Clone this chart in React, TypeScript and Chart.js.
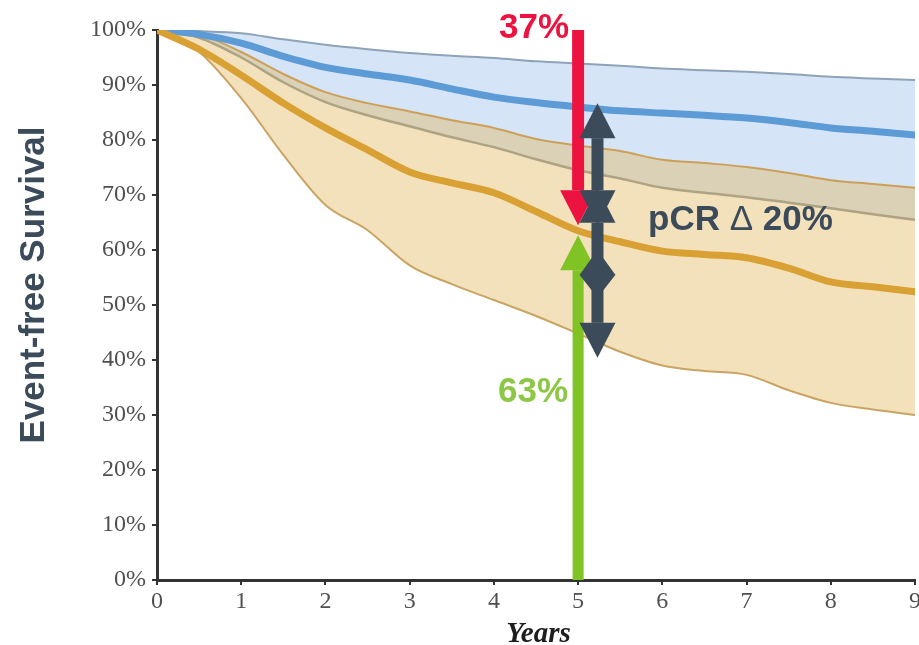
import React, { useEffect, useRef } from 'react';
import { Chart, registerables } from 'chart.js';
Chart.register(...registerables);

// ---- data ----
const YEARS = [0, 0.5, 1, 1.5, 2, 2.5, 3, 3.5, 4, 4.5, 5, 5.5, 6, 6.5, 7, 7.5, 8, 8.5, 9];
const PCR_UPPER = [100, 99.8, 99.4, 98.3, 97.3, 96.5, 95.8, 95.3, 94.9, 94.3, 93.9, 93.5, 93, 92.7, 92.4, 92, 91.5, 91.2, 90.9];
const PCR_MEAN = [100, 99.2, 97.6, 95.2, 93.2, 92, 90.9, 89.3, 87.8, 86.8, 86, 85.3, 84.9, 84.5, 84, 83.2, 82.2, 81.6, 80.9];
const PCR_LOWER = [100, 98.6, 95, 90.5, 86.9, 84.5, 82.5, 80.5, 78.7, 76.5, 74.5, 73, 71.3, 70.4, 69.6, 68.6, 67.6, 66.5, 65.5];
const NOPCR_UPPER = [100, 99.2, 96, 92, 88.7, 86.7, 85.2, 83.6, 82.2, 80.2, 79, 78, 76.4, 75.8, 75.1, 74, 72.7, 72, 71.3];
const NOPCR_MEAN = [100, 96.5, 91.8, 86.7, 82.2, 78.2, 74.2, 72.2, 70.4, 67, 63.5, 61.5, 59.8, 59.2, 58.6, 56.7, 54.2, 53.3, 52.4];
const NOPCR_LOWER = [100, 96, 87.6, 77.3, 68.2, 63.6, 57.2, 53.8, 50.9, 48, 44.8, 41.5, 39, 38, 37.3, 34.5, 32.2, 31, 30];

const X_TICKS = [0, 1, 2, 3, 4, 5, 6, 7, 8, 9];
const Y_TICKS = [0, 10, 20, 30, 40, 50, 60, 70, 80, 90, 100];

// annotation values (years / percent)
const ARROW_YEAR = 5;
const RED_ARROW = [100, 64.5];
const GREEN_ARROW = [0, 62.7];
const DELTA_YEAR = 5.23;
const DELTA_ARROWS = [
  [86.7, 64.5],
  [71.3, 51.3],
  [60, 40.4],
];
const RED_LABEL = '37%';
const GREEN_LABEL = '63%';
const DELTA_LABEL = ['pCR ', 'Δ', ' 20%'];
const Y_TITLE = 'Event-free Survival';
const X_TITLE = 'Years';

// head heights (px) for top / bottom ends of each delta arrow (style only)
const DELTA_HEADS = [
  [35, 35],
  [35, 23],
  [25, 35],
];

const pts = (vals: number[]) => YEARS.map((x, i) => ({ x, y: vals[i] }));

const RED = 'rgb(236,19,64)';
const GREEN = 'rgb(128,195,36)';
const GREEN_TXT = 'rgb(140,200,70)';
const DARK = 'rgb(60,75,90)';

function arrow(ctx: CanvasRenderingContext2D, xc: number, yTail: number, yTip: number, shaftW: number, headW: number, headH: number, color: string) {
  const dir = yTip > yTail ? 1 : -1;
  const yBase = yTip - dir * headH;
  ctx.fillStyle = color;
  ctx.beginPath();
  ctx.rect(xc - shaftW / 2, Math.min(yTail, yBase), shaftW, Math.abs(yBase - yTail));
  ctx.fill();
  ctx.beginPath();
  ctx.moveTo(xc - headW / 2, yBase);
  ctx.lineTo(xc + headW / 2, yBase);
  ctx.lineTo(xc, yTip);
  ctx.closePath();
  ctx.fill();
}

function doubleArrow(ctx: CanvasRenderingContext2D, xc: number, yTop: number, yBot: number, shaftW: number, headW: number, hTop: number, hBot: number, color: string) {
  ctx.fillStyle = color;
  ctx.beginPath();
  ctx.rect(xc - shaftW / 2, yTop + hTop, shaftW, yBot - yTop - hTop - hBot);
  ctx.fill();
  ctx.beginPath();
  ctx.moveTo(xc, yTop);
  ctx.lineTo(xc + headW / 2, yTop + hTop);
  ctx.lineTo(xc - headW / 2, yTop + hTop);
  ctx.closePath();
  ctx.fill();
  ctx.beginPath();
  ctx.moveTo(xc, yBot);
  ctx.lineTo(xc + headW / 2, yBot - hBot);
  ctx.lineTo(xc - headW / 2, yBot - hBot);
  ctx.closePath();
  ctx.fill();
}

const annotPlugin = {
  id: 'annot',
  afterDatasetsDraw(chart: any) {
    const { ctx, scales } = chart;
    const xs = scales.x;
    const ys = scales.y;
    ctx.save();
    const ax = xs.getPixelForValue(ARROW_YEAR);
    arrow(ctx, ax, ys.getPixelForValue(RED_ARROW[0]), ys.getPixelForValue(RED_ARROW[1]), 12, 36, 35, RED);
    arrow(ctx, ax, ys.getPixelForValue(GREEN_ARROW[0]), ys.getPixelForValue(GREEN_ARROW[1]), 11, 36, 35, GREEN);
    const dx = xs.getPixelForValue(DELTA_YEAR);
    DELTA_ARROWS.forEach(([a, b], i) => {
      doubleArrow(ctx, dx, ys.getPixelForValue(a), ys.getPixelForValue(b), 12, 36, DELTA_HEADS[i][0], DELTA_HEADS[i][1], DARK);
    });

    ctx.textBaseline = 'alphabetic';
    ctx.font = 'bold 35px "Liberation Sans", Arial, sans-serif';
    ctx.textAlign = 'right';
    ctx.fillStyle = RED;
    ctx.fillText(RED_LABEL, ax - 9, ys.getPixelForValue(98.5));
    ctx.fillStyle = GREEN_TXT;
    ctx.fillText(GREEN_LABEL, ax - 10, ys.getPixelForValue(32.3));

    // pCR Δ 20%
    ctx.textAlign = 'left';
    ctx.fillStyle = DARK;
    let px = xs.getPixelForValue(5.83);
    const py = ys.getPixelForValue(63.6);
    const fonts = ['bold 35px "Liberation Sans", Arial, sans-serif', '35px "Liberation Sans", Arial, sans-serif', 'bold 35px "Liberation Sans", Arial, sans-serif'];
    DELTA_LABEL.forEach((s, i) => {
      ctx.font = fonts[i];
      ctx.fillText(s, px, py);
      px += ctx.measureText(s).width;
    });
    ctx.restore();
  },
  afterDraw(chart: any) {
    const { ctx, chartArea } = chart;
    ctx.save();
    ctx.fillStyle = DARK;
    ctx.font = 'bold 35px "Liberation Sans", Arial, sans-serif';
    ctx.textAlign = 'center';
    ctx.textBaseline = 'middle';
    ctx.translate(34, (chartArea.top + chartArea.bottom) / 2 - 20);
    ctx.rotate(-Math.PI / 2);
    ctx.fillText(Y_TITLE, 0, 0);
    ctx.restore();

    ctx.save();
    ctx.fillStyle = '#1e1e1e';
    ctx.font = 'italic bold 29px "Liberation Serif", "Times New Roman", serif';
    ctx.textAlign = 'center';
    ctx.textBaseline = 'alphabetic';
    ctx.fillText(X_TITLE, chart.scales.x.getPixelForValue(4.53), 642);
    ctx.restore();
  },
};

export default function App() {
  const ref = useRef<HTMLCanvasElement>(null);
  useEffect(() => {
    if (!ref.current) return;
    const tickFont = { family: '"Liberation Serif", "Times New Roman", serif', size: 24 };
    const chart = new Chart(ref.current, {
      type: 'line',
      data: {
        datasets: [
          {
            label: 'pCR upper',
            data: pts(PCR_UPPER),
            borderColor: 'rgb(143,163,184)',
            borderWidth: 2,
            backgroundColor: 'rgb(213,229,247)',
            fill: 1,
            order: 10,
          },
          {
            label: 'pCR lower',
            data: pts(PCR_LOWER),
            borderColor: 'rgb(140,152,160)',
            borderWidth: 2.5,
            fill: false,
            order: 9,
          },
          {
            label: 'no pCR upper',
            data: pts(NOPCR_UPPER),
            borderColor: 'rgb(205,160,90)',
            borderWidth: 2,
            backgroundColor: 'rgba(225,180,85,0.4)',
            fill: 3,
            order: 8,
          },
          {
            label: 'no pCR lower',
            data: pts(NOPCR_LOWER),
            borderColor: 'rgb(200,165,100)',
            borderWidth: 2,
            fill: false,
            order: 7,
          },
          {
            label: 'pCR',
            data: pts(PCR_MEAN),
            borderColor: 'rgb(92,155,214)',
            borderWidth: 7,
            fill: false,
            order: 2,
          },
          {
            label: 'no pCR',
            data: pts(NOPCR_MEAN),
            borderColor: 'rgb(217,160,52)',
            borderWidth: 7,
            fill: false,
            order: 1,
          },
        ],
      },
      options: {
        animation: false,
        responsive: false,
        devicePixelRatio: 1,
        layout: { padding: { top: 30, right: 4, left: 0, bottom: 0 } },
        elements: {
          point: { radius: 0, hoverRadius: 0 },
          line: { cubicInterpolationMode: 'monotone', borderCapStyle: 'round', borderJoinStyle: 'round' },
        },
        plugins: {
          legend: { display: false },
          tooltip: { enabled: false },
          title: { display: false },
        },
        scales: {
          x: {
            type: 'linear',
            min: 0,
            max: 9,
            afterBuildTicks: (s: any) => {
              s.ticks = X_TICKS.map((v) => ({ value: v }));
            },
            afterFit: (s: any) => {
              s.height = 65;
              s.paddingLeft = 0;
              s.paddingRight = 0;
            },
            ticks: { color: '#505050', font: tickFont, padding: 2, maxRotation: 0, autoSkip: false },
            grid: { drawOnChartArea: false, drawTicks: true, tickLength: 5, color: '#333', lineWidth: 2 },
            border: { display: true, color: '#333', width: 3 },
          },
          y: {
            type: 'linear',
            min: 0,
            max: 100,
            afterBuildTicks: (s: any) => {
              s.ticks = Y_TICKS.map((v) => ({ value: v }));
            },
            afterFit: (s: any) => {
              s.width = 157;
              s.paddingTop = 0;
              s.paddingBottom = 0;
            },
            ticks: { color: '#505050', font: tickFont, padding: 6, callback: (v: any) => v + '%' },
            grid: { drawOnChartArea: false, drawTicks: true, tickLength: 5, color: '#333', lineWidth: 2 },
            border: { display: true, color: '#333', width: 3 },
          },
        },
      },
      plugins: [annotPlugin],
    } as any);
    return () => chart.destroy();
  }, []);
  return (
    <div style={{ position: 'absolute', left: 0, top: 0, width: 919, height: 645, background: '#fff' }}>
      <canvas ref={ref} width={919} height={645} />
    </div>
  );
}
